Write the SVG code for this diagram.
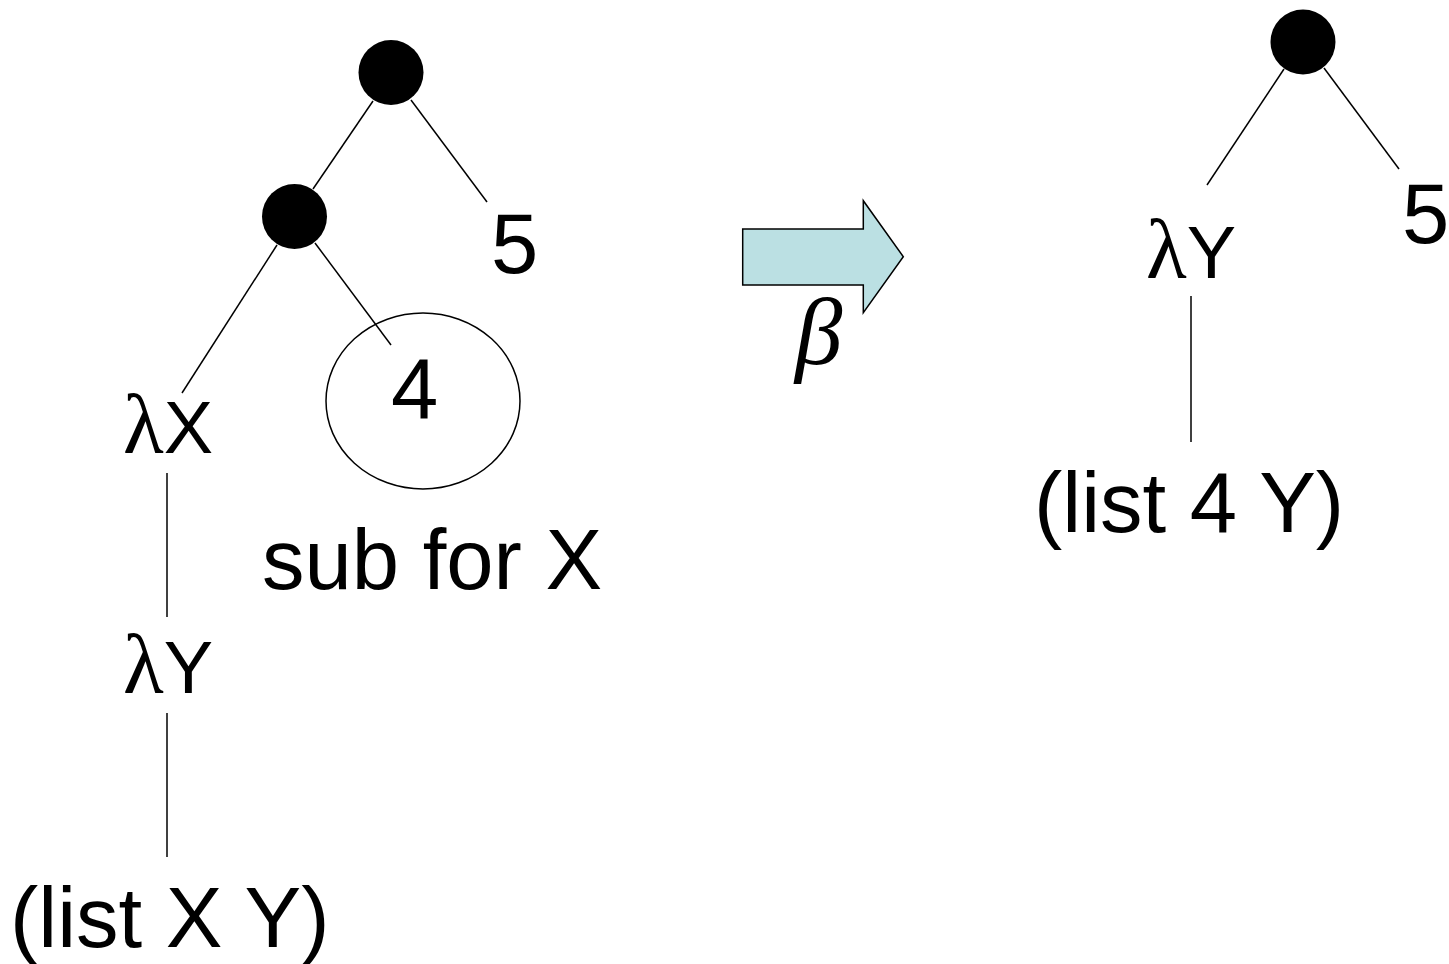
<svg xmlns="http://www.w3.org/2000/svg" width="1449" height="964" viewBox="0 0 1449 964">
<style>
.e{stroke:#000;stroke-width:1.5;fill:none}
.dot{fill:#000}
.t{font-family:"Liberation Sans",Arial,sans-serif;font-size:85px;fill:#000}
.lt{font-family:"Liberation Sans",Arial,sans-serif;font-size:74px;fill:#000}
.lam{font-family:"Liberation Serif","Times New Roman",serif;font-size:84px}
</style>
<rect width="1449" height="964" fill="#fff"/>
<g id="connectors">
<line class="e" x1="373" y1="101" x2="313" y2="189"/>
<line class="e" x1="411" y1="100" x2="487" y2="202"/>
<line class="e" x1="277" y1="245" x2="182" y2="393"/>
<line class="e" x1="315" y1="243" x2="391" y2="345"/>
<line class="e" x1="167" y1="473" x2="167" y2="617"/>
<line class="e" x1="167" y1="713" x2="167" y2="857"/>
<line class="e" x1="1284" y1="69" x2="1207" y2="185"/>
<line class="e" x1="1324" y1="68" x2="1399" y2="169"/>
<line class="e" x1="1191" y1="296" x2="1191" y2="442"/>
</g>
<g id="root-left"><circle class="dot" cx="391" cy="72.5" r="32.5"/></g>
<g id="app-left"><circle class="dot" cx="294.5" cy="216.5" r="32.5"/></g>
<g id="five-left"><text class="t" x="491" y="273">5</text></g>
<g id="four"><ellipse class="e" cx="423" cy="401" rx="97" ry="88"/><text class="t" x="391" y="418">4</text></g>
<g id="sub-label"><text class="t" x="262" y="589">sub for X</text></g>
<g id="lambda-x"><text class="lt" x="123" y="453"><tspan class="lam">λ</tspan>X</text></g>
<g id="lambda-y-left"><text class="lt" x="123" y="693"><tspan class="lam">λ</tspan>Y</text></g>
<g id="list-xy"><text class="t" x="10" y="947">(list X Y)</text></g>
<g id="beta-arrow"><polygon points="742.7,229 863.3,229 863.3,200.7 903.3,256.7 863.3,312.7 863.3,285 742.7,285" fill="#BBE0E3" stroke="#000" stroke-width="1.5"/>
<text x="795" y="364" font-family="'Liberation Serif','Times New Roman',serif" font-style="italic" font-size="95">β</text></g>
<g id="root-right"><circle class="dot" cx="1303" cy="42" r="32.5"/></g>
<g id="five-right"><text class="t" x="1402" y="243">5</text></g>
<g id="lambda-y-right"><text class="lt" x="1146" y="278"><tspan class="lam">λ</tspan>Y</text></g>
<g id="list-4y"><text class="t" x="1034" y="532">(list 4 Y)</text></g>
</svg>
